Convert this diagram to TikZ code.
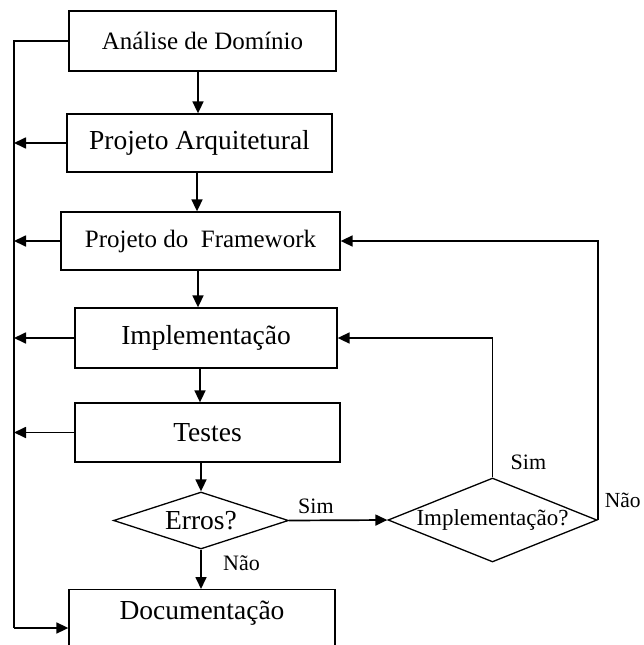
\documentclass[tikz,border=0pt]{standalone}
\usepackage{fontspec}
\setmainfont{Liberation Serif}
\usetikzlibrary{arrows.meta,shapes.geometric}
\begin{document}
\begin{tikzpicture}[x=1pt,y=-1pt,
  box/.style={draw, line width=1.3pt, inner sep=0pt, rectangle},
  big/.style={font=\fontsize{27.5}{30}\selectfont},
  mid/.style={font=\fontsize{25}{28}\selectfont},
  dtxt/.style={font=\fontsize{23}{26}\selectfont},
  lbl/.style={font=\fontsize{22}{24}\selectfont},
  conn/.style={line width=1.7pt},
  arr/.style={conn, -{Triangle[length=12pt,width=11pt]}},
  dia/.style={draw, diamond, line width=1.3pt, inner sep=0pt}]
\path[use as bounding box, clip] (0,0) rectangle (644,645);

\node[box, mid, minimum width=267, minimum height=60] (a1) at (202.5,41) {Análise de Domínio};
\node[box, big, minimum width=265, minimum height=58] (a2) at (199.5,143) {Projeto Arquitetural};
\node[box, mid, minimum width=279, minimum height=58] (a3) at (200.5,241) {Projeto do\ \ Framework};
\node[box, big, minimum width=262, minimum height=60] (a4) at (206,338) {Implementação};
\node[box, big, minimum width=265, minimum height=59] (a5) at (207.5,432.5) {Testes};
\node[dia, big, aspect=3, minimum width=175, minimum height=57] (d1) at (201,520.5) {Erros?};
\node[dia, dtxt, aspect=2.5, minimum width=209, minimum height=84] (d2) at (492.5,520) {Implementação?};
\node[box, minimum width=266, minimum height=80, anchor=north] (doc) at (202,589) {};
\node[big] (doctxt) at (202,613) {Documentação};

\coordinate (L1) at (14,43);
\coordinate (L2) at (14,628);
\coordinate (v1) at (198,0);
\coordinate (v2) at (197,0);
\coordinate (v4) at (200,0);

\draw[conn] (a1.west) -- (a1.west -| L1) -- (L2);
\draw[arr] (L2) -- (L2 -| doc.west);
\foreach \n in {a2,a3,a4,a5} \draw[arr] (\n.west) -- (\n.west -| L1);

\draw[arr] (a1.south -| v1) -- (a2.north -| v1);
\draw[arr] (a2.south -| v2) -- (a3.north -| v2);
\draw[arr] (a3.south -| v1) -- (a4.north -| v1);
\draw[arr] (a4.south -| v4) -- (a5.north -| v4);
\draw[arr] (a5.south -| d1.north) -- (d1.north);
\draw[arr] (d1.south) -- node[lbl, pos=0.52, anchor=base west, xshift=18pt] {Não} (d1.south |- doc.north);
\draw[arr] (d1.east) -- node[lbl, pos=0.05, anchor=base west, yshift=7pt] {Sim} (d2.west);
\draw[arr] (d2.north) node[lbl, anchor=base west, xshift=14pt, yshift=8pt] {Sim} |- (a4.east);
\draw[arr] (d2.east) node[lbl, anchor=base west, xshift=3pt, yshift=13pt, font=\fontsize{21.5}{24}\selectfont] {Não} |- (a3.east);
\end{tikzpicture}
\end{document}
